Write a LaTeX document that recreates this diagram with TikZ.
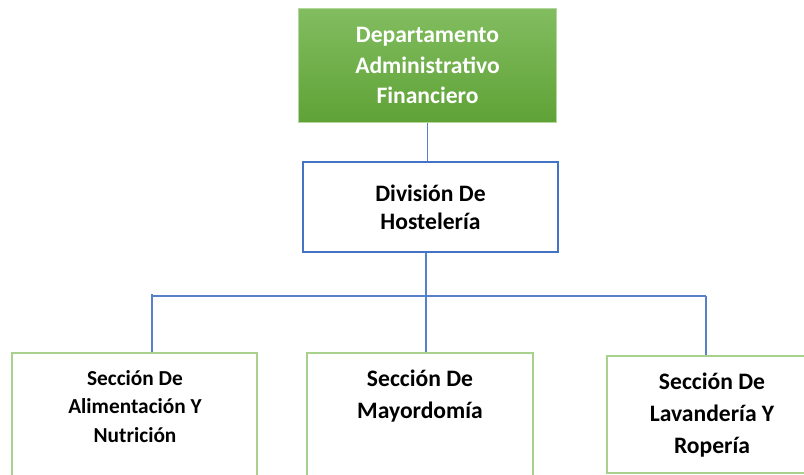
\documentclass[tikz,border=0pt]{standalone}
\usepackage{fontspec}
\setmainfont{Carlito}
\usetikzlibrary{positioning}
\definecolor{linkblue}{HTML}{4472C4}
\definecolor{secgreen}{HTML}{A9D18E}
\definecolor{headtop}{HTML}{82BD60}
\definecolor{headbottom}{HTML}{5FA236}
\tikzset{
every picture/.style={x=0.75pt, y=-0.75pt},
%%%%%%%%%%  Node styles
headbox/.style={draw=headtop!60!white, line width=0.6pt,
                top color=headtop, bottom color=headbottom, text=white,
                font=\bfseries\fontsize{17.7}{22.9}\selectfont, align=center,
                minimum width=194pt, minimum height=86pt, inner sep=0},
divbox/.style={draw=linkblue, line width=1.9pt, fill=white,
               font=\bfseries\fontsize{17.7}{21}\selectfont, align=center,
               minimum width=191pt, minimum height=67.5pt, inner sep=0},
secbox/.style={draw=secgreen, line width=2.2pt, inner sep=0},
sectext/.style={font=\bfseries\fontsize{17.7}{24}\selectfont, align=center,
                inner sep=0},
smallsectext/.style={font=\bfseries\fontsize{16}{21.2}\selectfont,
                     align=center, inner sep=0},
%%%% line styles
link/.style={draw=linkblue!90!white, line width=0.9pt}
}

\begin{document}
\begin{tikzpicture}
\useasboundingbox (0,0) rectangle (804,475);
\node[headbox] (dept) at (427.5,65.5) {Departamento\\Administrativo\\Financiero};
\node[divbox] (host) at (430.5,207) {División De\\Hostelería};
%%%%%%% section boxes
\node[secbox, minimum width=183.75pt, minimum height=106.5pt] (alim) at (134.5,424) {};
\node[secbox, minimum width=169.5pt, minimum height=106.5pt] (mayor) at (420,424) {};
\node[secbox, minimum width=149.25pt, minimum height=87.75pt] (lav) at (706.5,414.5) {};
\node[smallsectext] (alimtxt) at (135,406.5) {Sección De\\Alimentación Y\\Nutrición};
\node[sectext] (mayortxt) at (420,396) {Sección De\\Mayordomía};
\node[sectext] (lavtxt) at (712,415) {Sección De\\Lavandería Y\\Ropería};
%%%%%%% connectors
\coordinate (hub) at (426,296);
\coordinate (hubl) at (152,296);
\coordinate (hubr) at (706,296);
\draw[link] (dept.south) -- (dept.south |- host.north);
\draw[link] (host.south -| hub) -- (hub);
\draw[link] (hubl) -- (hubr);
\draw[link] (hubl) ++(0,-2) -- (hubl |- alim.north);
\draw[link] (hub) -- (hub |- mayor.north);
\draw[link] (hubr) -- (hubr |- lav.north);
\end{tikzpicture}
\end{document}
